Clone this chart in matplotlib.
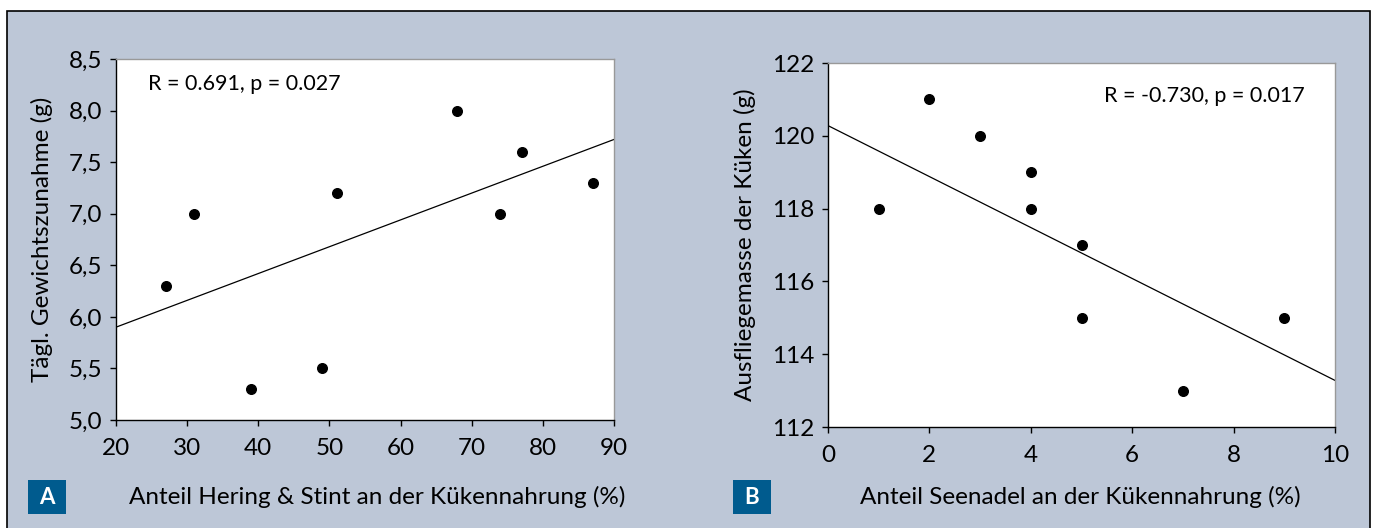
import numpy as np
import matplotlib.pyplot as plt
from matplotlib.patches import Rectangle

plt.rcParams['font.family'] = ['Lato', 'DejaVu Sans']

# Panel A
x_a = [27, 31, 39, 49, 51, 68, 74, 77, 87]
y_a = [6.3, 7.0, 5.3, 5.5, 7.2, 8.0, 7.0, 7.6, 7.3]
trend_a_x = [20, 90]
trend_a_y = [5.9, 7.72]
xticks_a = [20, 30, 40, 50, 60, 70, 80, 90]
yticks_a = [5.0, 5.5, 6.0, 6.5, 7.0, 7.5, 8.0, 8.5]

# Panel B
x_b = [1, 2, 3, 4, 4, 5, 5, 7, 9]
y_b = [118, 121, 120, 119, 118, 117, 115, 113, 115]
trend_b_x = [0, 10]
trend_b_y = [120.28, 113.28]
xticks_b = [0, 2, 4, 6, 8, 10]
yticks_b = [112, 114, 116, 118, 120, 122]

bg = '#bdc7d7'
blue = '#005b8e'
W, H = 1373, 528
fs = 17.5

fig = plt.figure(figsize=(W / 100, H / 100), dpi=100)
fig.patch.set_facecolor('white')
# framed panel background
fig.patches.append(Rectangle((7 / W, -0.05), (1370 - 7) / W, 1.05 - 11 / H,
                             transform=fig.transFigure, facecolor=bg,
                             edgecolor='black', linewidth=1.2, zorder=-5))


def style(ax):
    ax.set_facecolor('white')
    for s in ax.spines.values():
        s.set_linewidth(1.0)
    ax.spines['top'].set_color('#999999')
    ax.spines['right'].set_color('#999999')
    ax.tick_params(direction='out', length=4, width=1, labelsize=fs, colors='black', pad=6)
    ax.tick_params(axis='x', pad=9)


# axes positions in pixels (left, top, right, bottom)
def place(l, t, r, b):
    return fig.add_axes([l / W, 1 - b / H, (r - l) / W, (b - t) / H])


ax1 = place(116, 59, 614, 420)
style(ax1)
ax1.scatter(x_a, y_a, s=48, color='black', zorder=3)
ax1.plot(trend_a_x, trend_a_y, color='black', linewidth=0.9)
ax1.set_xlim(20, 90)
ax1.set_ylim(5.0, 8.5)
ax1.set_xticks(xticks_a)
ax1.set_yticks(yticks_a)
ax1.set_xticklabels([str(v) for v in xticks_a])
ax1.set_yticklabels([f'{v:.1f}'.replace('.', ',') for v in yticks_a])
ax1.set_ylabel('Tägl. Gewichtszunahme (g)', fontsize=fs, labelpad=11)
ax1.text(0.064, 0.93, 'R = 0.691, p = 0.027', transform=ax1.transAxes,
         fontsize=15.5, va='center', ha='left')

ax2 = place(828, 63, 1335, 427)
style(ax2)
ax2.scatter(x_b, y_b, s=48, color='black', zorder=3)
ax2.plot(trend_b_x, trend_b_y, color='black', linewidth=0.9)
ax2.set_xlim(0, 10)
ax2.set_ylim(112, 122)
ax2.set_xticks(xticks_b)
ax2.set_yticks(yticks_b)
ax2.set_ylabel('Ausfliegemasse der Küken (g)', fontsize=fs, labelpad=11)
ax2.text(0.94, 0.91, 'R = -0.730, p = 0.017', transform=ax2.transAxes,
         fontsize=15.5, va='center', ha='right')

# x labels and panel letters
fig.text(377 / W, 1 - 497 / H, 'Anteil Hering & Stint an der Kükennahrung (%)',
         fontsize=fs, ha='center', va='center')
fig.text(1080 / W, 1 - 497 / H, 'Anteil Seenadel an der Kükennahrung (%)',
         fontsize=fs, ha='center', va='center')
for x0, letter in [(28, 'A'), (733, 'B')]:
    fig.patches.append(Rectangle((x0 / W, 1 - 514 / H), 38 / W, 34 / H,
                                 transform=fig.transFigure, facecolor=blue,
                                 edgecolor='none', zorder=1))
    fig.text((x0 + 19) / W, 1 - 497 / H, letter, color='white', fontsize=16,
             fontweight='bold', ha='center', va='center', zorder=2)

fig.savefig('out.png', dpi=100, facecolor=fig.get_facecolor())
